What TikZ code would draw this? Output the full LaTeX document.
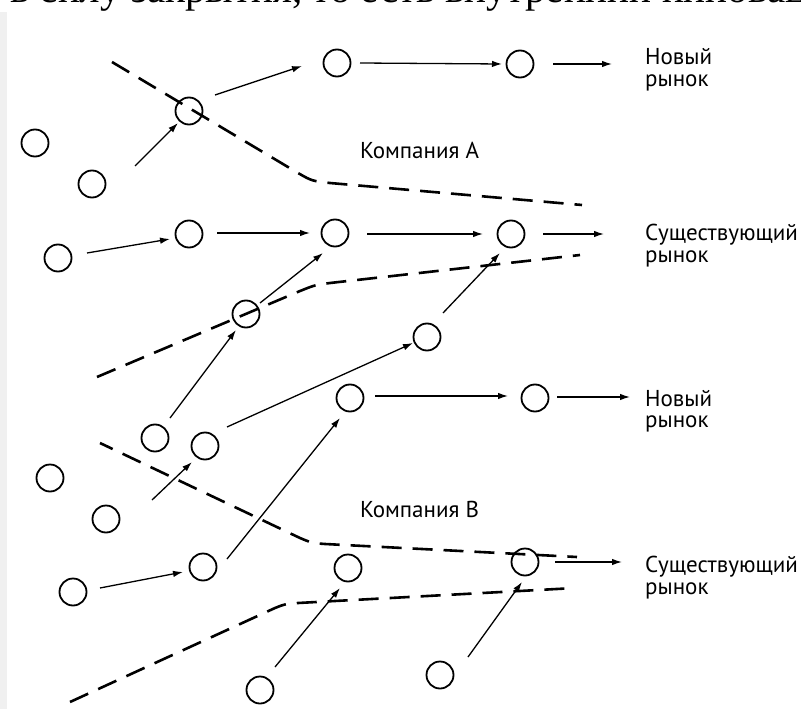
\documentclass[tikz,border=0pt]{standalone}
\usepackage{fontspec}
\setmainfont{PT Sans}
\newfontfamily\bodyserif{Liberation Serif}
\usetikzlibrary{arrows.meta,calc}

\tikzset{
  dot/.style={circle, draw=black, line width=1.8pt, minimum size=27pt, inner sep=0pt},
  arr/.style={line width=1.3pt, -{Latex[length=10pt,width=6.5pt]}},
  border/.style={line width=2.6pt, dash pattern=on 20pt off 11pt},
  lbl/.style={anchor=base west, inner sep=0pt, font=\fontsize{23}{23}\selectfont}
}

\begin{document}
\begin{tikzpicture}[x=1pt, y=-1pt]
\useasboundingbox (0,0) rectangle (801,709);
\fill[white] (0,0) rectangle (801,709);
\fill[black!6] (0,12) rectangle (7,709);

% running text of the page above, cut by the frame
\begin{scope}
  \clip (0,0) rectangle (801,709);
  \node[anchor=base west, inner sep=0pt, font=\bodyserif\fontsize{41}{41}\selectfont] (runtext) at (10,3)
    {в силу закрытия, то есть внутренний инновац};
\end{scope}

% ---------- company A ----------
\node[dot] (c1)  at (35,143) {};
\node[dot] (c2)  at (92,184) {};
\node[dot] (c3)  at (189,111) {};
\node[dot] (c4)  at (337,63) {};
\node[dot] (c9)  at (520,64) {};
\node[dot] (c5)  at (58,258) {};
\node[dot] (c6)  at (189,234) {};
\node[dot] (c7)  at (335,233) {};
\node[dot] (c10) at (511,234) {};
\node[dot] (c8)  at (246,314) {};
\node[dot] (c11) at (427,337) {};

% boundaries of company A
\draw[border] (112,62) -- (298,173) .. controls (312,181) .. (330,183) -- (582,205);
\draw[border] (97,377) -- (300,291) .. controls (315,285) .. (330,283) -- (580,255);

\draw[arr] ($(c3)+(26,-16)$) -- ($(c4)+(-35,3)$);
\draw[arr] ($(c2)+(43,-18)$) -- ($(c3)+(-11,12)$);
\draw[arr] ($(c4)+(23,0)$) -- ($(c9)+(-18,0)$);
\draw[arr] ($(c9)+(33,0)$) -- ($(c9)+(92,0)$);
\draw[arr] ($(c5)+(29,-5)$) -- ($(c6)+(-19,5)$);
\draw[arr] ($(c6)+(28,-1)$) -- ($(c7)+(-25,0)$);
\draw[arr] ($(c7)+(32,1)$) -- ($(c10)+(-28,0)$);
\draw[arr] ($(c10)+(32,0)$) -- ($(c10)+(93,0)$);
\draw[arr] ($(c8)+(14,-11)$) -- ($(c7)+(-12,20)$);
\draw[arr] ($(c11)+(16,-24)$) -- ($(c10)+(-11,19)$);

\node[lbl] (newA1) at (645,65) {Новый};
\node[lbl] (newA2) at (645,86) {рынок};
\node[lbl] (compA) at (360,158) {Компания А};
\node[lbl] (oldA1) at (645,240) {Существующий};
\node[lbl] (oldA2) at (645,262) {рынок};

% ---------- company B ----------
\node[dot] (c12) at (155,438) {};
\node[dot] (c13) at (205,446) {};
\node[dot] (c14) at (50,478) {};
\node[dot] (c15) at (106,519) {};
\node[dot] (c18) at (350,398) {};
\node[dot] (c21) at (535,398) {};
\node[dot] (c16) at (203,567) {};
\node[dot] (c17) at (73,592) {};
\node[dot] (c19) at (348,568) {};
\node[dot] (c22) at (525,562) {};
\node[dot] (c20) at (260,690) {};
\node[dot] (c23) at (440,675) {};

% boundaries of company B
\draw[border, dash phase=6pt] (100,443) -- (300,538) .. controls (312,543) .. (325,544) -- (577,557);
\draw[border] (70,702) -- (275,608) .. controls (285,604) .. (298,603) -- (575,588);

\draw[arr] ($(c12)+(15,-20)$) -- ($(c8)+(-10,16)$);
\draw[arr] ($(c13)+(22,-19)$) -- ($(c11)+(-14,6)$);
\draw[arr] ($(c15)+(46,-19)$) -- ($(c13)+(-13,16)$);
\draw[arr] ($(c17)+(27,-4)$) -- ($(c16)+(-20,5)$);
\draw[arr] ($(c16)+(24,-8)$) -- ($(c18)+(-10,20)$);
\draw[arr] ($(c18)+(25,-2)$) -- ($(c21)+(-27,-2)$);
\draw[arr] ($(c21)+(22,-1)$) -- ($(c21)+(95,-1)$);
\draw[arr] ($(c20)+(15,-23)$) -- ($(c19)+(-8,20)$);
\draw[arr] ($(c23)+(28,-18)$) -- ($(c22)+(-3,20)$);
\draw[arr] ($(c22)+(30,0)$) -- ($(c22)+(97,0)$);

\node[lbl] (newB1) at (645,406) {Новый};
\node[lbl] (newB2) at (645,427) {рынок};
\node[lbl] (compB) at (360,517) {Компания В};
\node[lbl] (oldB1) at (645,572) {Существующий};
\node[lbl] (oldB2) at (645,594) {рынок};
\end{tikzpicture}
\end{document}
